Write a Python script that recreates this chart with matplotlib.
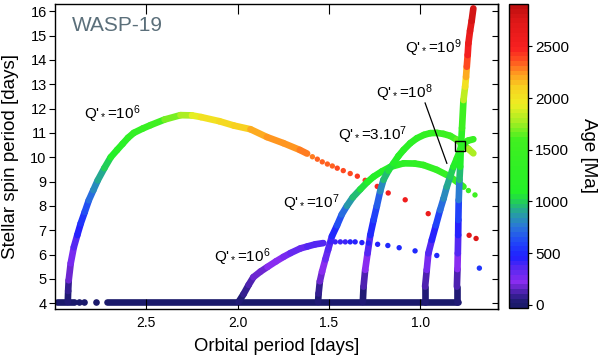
import numpy as np
import matplotlib.pyplot as plt
from matplotlib.collections import LineCollection
from matplotlib.colors import LinearSegmentedColormap, Normalize
from matplotlib.cm import ScalarMappable

plt.rcParams['font.family'] = ['Liberation Sans', 'DejaVu Sans']
plt.rcParams['mathtext.fontset'] = 'custom'
plt.rcParams['mathtext.rm'] = 'Liberation Sans'
plt.rcParams['mathtext.it'] = 'Liberation Sans:italic'
plt.rcParams['mathtext.bf'] = 'Liberation Sans:bold'

# ---- data: orbital period [d], spin period [d], age [Ma]
# Q'=1e6, planet starting far out (upper arc)
q6a_porb = [2.930, 2.928, 2.925, 2.914, 2.897, 2.878, 2.859, 2.837, 2.815, 2.790, 2.766,
            2.730, 2.695, 2.660, 2.630, 2.600, 2.569, 2.520, 2.477, 2.400, 2.313, 2.250,
            2.200, 2.100, 2.020, 1.930, 1.840, 1.750, 1.660, 1.620]
q6a_pspin = [4.05, 4.50, 4.94, 5.64, 6.30, 6.80, 7.28, 7.75, 8.23, 8.65, 9.05,
             9.55, 10.00, 10.30, 10.55, 10.80, 11.00, 11.18, 11.32, 11.55, 11.73, 11.72,
             11.65, 11.48, 11.30, 11.15, 10.83, 10.58, 10.30, 10.15]
q6a_age = [0, 60, 140, 230, 320, 420, 500, 580, 650, 760, 860,
           960, 1050, 1130, 1200, 1280, 1350, 1430, 1500, 1620, 1750, 1850,
           1950, 2050, 2100, 2150, 2200, 2250, 2280, 2300]
q6a_dot_porb = [1.591, 1.564, 1.537, 1.509, 1.482, 1.455, 1.422, 1.384, 1.345, 1.302,
                1.236, 1.176, 1.083, 0.957, 0.733, 0.695]
q6a_dot_pspin = [10.02, 9.92, 9.81, 9.72, 9.64, 9.55, 9.45, 9.33, 9.22, 9.05,
                 8.80, 8.53, 8.25, 7.68, 6.79, 6.66]
q6a_dot_age = [2310, 2320, 2330, 2340, 2350, 2360, 2380, 2400, 2420, 2440,
               2470, 2500, 2550, 2620, 2700, 2750]

# Q'=1e6, lower track
q6b_porb = [1.995, 1.968, 1.940, 1.914, 1.875, 1.837, 1.790, 1.750, 1.711, 1.657,
            1.619, 1.575, 1.531]
q6b_pspin = [4.05, 4.37, 4.75, 5.07, 5.30, 5.49, 5.72, 5.90, 6.06, 6.25,
             6.33, 6.42, 6.47]
q6b_age = [0, 60, 110, 150, 180, 200, 230, 250, 280, 310, 330, 350, 370]
q6b_dot_porb = [1.493, 1.466, 1.438, 1.411, 1.384, 1.357, 1.320, 1.284, 1.234, 1.178,
                1.116, 1.029, 0.910, 0.677]
q6b_dot_pspin = [6.52, 6.52, 6.52, 6.52, 6.52, 6.52, 6.49, 6.47, 6.42, 6.37,
                 6.28, 6.15, 5.96, 5.44]
q6b_dot_age = [390, 400, 410, 420, 430, 440, 450, 460, 470, 480, 490, 500, 520, 550]

# Q'=1e7
q7_porb = [1.560, 1.557, 1.550, 1.538, 1.520, 1.505, 1.484, 1.456, 1.430, 1.402, 1.370,
           1.329, 1.290, 1.256, 1.210, 1.165, 1.092, 1.030, 0.983, 0.910, 0.837, 0.764]
q7_pspin = [4.05, 4.40, 4.90, 5.30, 5.80, 6.20, 6.75, 7.20, 7.65, 8.00, 8.35,
            8.68, 8.98, 9.20, 9.42, 9.60, 9.75, 9.74, 9.68, 9.48, 9.20, 8.79]
q7_age = [0, 50, 130, 190, 260, 330, 420, 560, 680, 820, 920,
          1000, 1060, 1100, 1150, 1200, 1250, 1300, 1350, 1400, 1450, 1500]
q7_dot_porb = [0.737, 0.701]
q7_dot_pspin = [8.63, 8.45]
q7_dot_age = [1520, 1550]

# Q'=3e7
q37_porb = [1.315, 1.311, 1.302, 1.289, 1.274, 1.256, 1.238, 1.220, 1.202, 1.175, 1.147,
            1.120, 1.092, 1.055, 1.019, 0.980, 0.946, 0.910, 0.874, 0.837, 0.801, 0.764,
            0.735, 0.710]
q37_pspin = [4.05, 4.68, 5.37, 6.05, 6.80, 7.42, 8.00, 8.60, 9.07, 9.45, 9.75,
             10.05, 10.30, 10.58, 10.78, 10.92, 10.99, 11.00, 10.96, 10.88, 10.72, 10.51,
             10.33, 10.16]
q37_age = [0, 80, 180, 290, 420, 550, 620, 780, 880, 1000, 1100,
           1150, 1200, 1250, 1300, 1350, 1400, 1450, 1500, 1550, 1600, 1680,
           1750, 1800]

# Q'=1e8
q8_porb = [0.974, 0.974, 0.965, 0.956, 0.937, 0.915, 0.892, 0.873, 0.855, 0.837, 0.819,
           0.800, 0.782, 0.765, 0.740, 0.710]
q8_pspin = [4.05, 4.68, 5.37, 6.05, 6.60, 7.20, 7.83, 8.30, 8.79, 9.20, 9.61,
            9.95, 10.30, 10.55, 10.68, 10.74]
q8_age = [0, 90, 200, 310, 420, 530, 650, 760, 870, 970, 1080,
          1180, 1280, 1360, 1420, 1480]

# Q'=1e9
q9_porb = [0.800, 0.800, 0.797, 0.795, 0.793, 0.792, 0.790, 0.786, 0.782, 0.779,
           0.772, 0.764, 0.755, 0.750, 0.746, 0.741, 0.737, 0.728, 0.719, 0.710]
q9_pspin = [4.05, 4.68, 5.40, 6.05, 6.80, 7.42, 8.24, 9.07, 9.61, 10.30,
            11.20, 12.35, 12.90, 13.30, 13.72, 14.20, 14.68, 15.20, 15.61, 16.12]
q9_age = [0, 100, 200, 280, 400, 500, 650, 870, 1000, 1150,
          1400, 1700, 1950, 2050, 2300, 2450, 2550, 2650, 2750, 2880]

# initial phase at constant spin (zero age)
flat_runs = [(2.990, 2.905), (2.713, 0.795)]
flat_dots = [2.896, 2.868, 2.841, 2.777]
flat_pspin = 4.05

# observed WASP-19 position
obs_porb = 0.785
obs_pspin = 10.45

# ---- colour scale
cmap_stops = [(0, '#1b1a6b'), (80, '#3a1f9a'), (200, '#8a2cf0'), (330, '#5a28f0'),
              (450, '#2020ff'), (600, '#2048f8'), (750, '#2a78d8'), (880, '#26a0a0'),
              (980, '#22c860'), (1080, '#22f028'), (1600, '#40f020'), (1780, '#a8ee22'),
              (1950, '#eeee22'), (2120, '#f8d020'), (2250, '#ff9a20'), (2380, '#ff5020'),
              (2500, '#f82020'), (2750, '#e01818'), (2910, '#c01010')]
vmin, vmax = -30, 2910
cmap = LinearSegmentedColormap.from_list(
    'age', [((a - vmin) / (vmax - vmin), c) for a, c in [(vmin, cmap_stops[0][1])] + cmap_stops],
    N=64)
norm = Normalize(vmin, vmax)

fig = plt.figure(figsize=(6, 3.56), dpi=100)
ax = fig.add_axes([55 / 600, 47 / 356, 443 / 600, 305 / 356])
cax = fig.add_axes([509 / 600, 48 / 356, 19 / 600, 304 / 356])

LW = 4.8
DOT = 15

# flat part
for a, b in flat_runs:
    ax.plot([a, b], [flat_pspin, flat_pspin], color=cmap(norm(0)), lw=LW,
            solid_capstyle='round', zorder=1)
ax.scatter(flat_dots, [flat_pspin] * len(flat_dots), color=cmap(norm(0)), s=DOT + 8,
           linewidths=0, zorder=1)


def draw_track(porb, pspin, age, dporb=None, dpspin=None, dage=None, z=2):
    pts = np.column_stack([porb, pspin])
    segs = np.stack([pts[:-1], pts[1:]], axis=1)
    age = np.asarray(age, dtype=float)
    mid = (age[:-1] + age[1:]) / 2
    lc = LineCollection(segs, colors=cmap(norm(mid)), linewidths=LW,
                        capstyle='round', joinstyle='round', zorder=z)
    ax.add_collection(lc)
    if dporb:
        ax.scatter(dporb, dpspin, c=dage, cmap=cmap, norm=norm, s=DOT,
                   linewidths=0, zorder=z)


draw_track(q6a_porb, q6a_pspin, q6a_age, q6a_dot_porb, q6a_dot_pspin, q6a_dot_age)
draw_track(q7_porb, q7_pspin, q7_age, q7_dot_porb, q7_dot_pspin, q7_dot_age)
draw_track(q37_porb, q37_pspin, q37_age)
draw_track(q8_porb, q8_pspin, q8_age)
draw_track(q6b_porb, q6b_pspin, q6b_age, q6b_dot_porb, q6b_dot_pspin, q6b_dot_age, z=3)
draw_track(q9_porb, q9_pspin, q9_age, z=4)

ax.plot(obs_porb, obs_pspin, marker='s', ms=7.5, mfc='none', mec='k', mew=1.0, zorder=5)

# labels on the tracks
lab_kw = dict(fontsize=11, ha='left', va='baseline', zorder=6)
ax.text(2.843, 11.57, r"Q'$_*$=10$^6$", **lab_kw)
ax.text(2.132, 5.70, r"Q'$_*$=10$^6$", **lab_kw)
ax.text(1.750, 7.92, r"Q'$_*$=10$^7$", **lab_kw)
ax.text(1.449, 10.71, r"Q'$_*$=3.10$^7$", **lab_kw)
ax.text(1.242, 12.44, r"Q'$_*$=10$^8$", **lab_kw)
ax.text(1.083, 14.29, r"Q'$_*$=10$^9$", **lab_kw)
ax.plot([0.974, 0.855], [12.23, 9.75], color='k', lw=0.9, zorder=6)

ax.text(0.038, 0.93, 'WASP-19', transform=ax.transAxes, fontsize=15,
        color='#5b6f7a', ha='left', va='center')

ax.set_xlim(3.0, 0.575)
ax.set_ylim(3.76, 16.3)
ax.set_xticks([2.5, 2.0, 1.5, 1.0])
ax.set_xticklabels(['2.5', '2.0', '1.5', '1.0'])
ax.set_yticks(range(4, 17))
ax.tick_params(axis='x', direction='in', length=7, top=True, labelsize=10, pad=5)
ax.tick_params(axis='y', direction='out', length=4, labelsize=10.5, pad=2)
sec = ax.secondary_yaxis('right')
sec.set_yticks(range(4, 17))
sec.tick_params(direction='in', length=4, labelright=False)
for s in list(ax.spines.values()) + list(sec.spines.values()):
    s.set_linewidth(1.0)

ax.set_xlabel('Orbital period [days]', fontsize=13.3, labelpad=6)
ax.set_ylabel('Stellar spin period [days]', fontsize=13.5, labelpad=8)

cb = fig.colorbar(ScalarMappable(norm=norm, cmap=cmap), cax=cax)
cb.set_ticks([0, 500, 1000, 1500, 2000, 2500])
cb.ax.tick_params(labelsize=11, length=3, width=0.8, pad=2)
cb.outline.set_linewidth(1.0)
cb.set_label('Age [Ma]', rotation=270, fontsize=13.5, labelpad=20)

fig.savefig('out.png', dpi=100)
